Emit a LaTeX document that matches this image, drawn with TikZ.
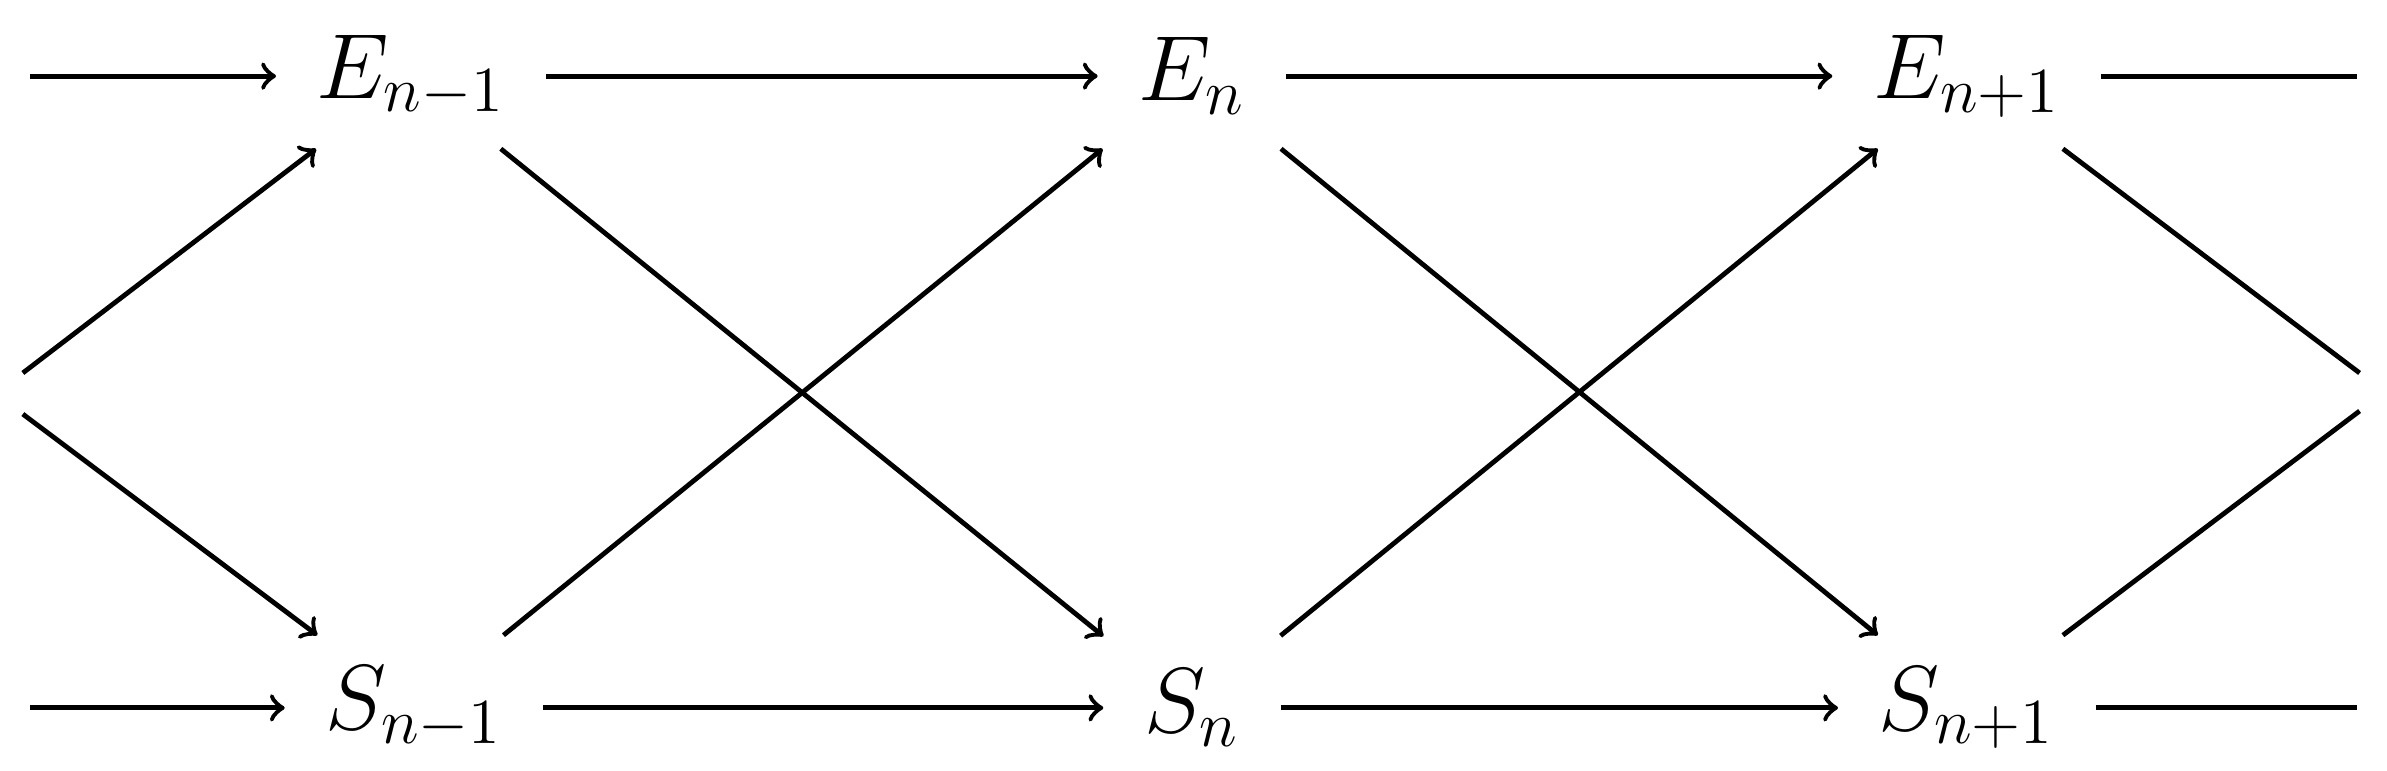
\documentclass[tikz,border=0pt]{standalone}
\begin{document}
\begin{tikzpicture}[x=0.01cm,y=-0.01cm,
  nd/.style={inner xsep=0.26cm,inner ysep=0pt,minimum height=0.94cm,font=\LARGE},
  ar/.style={->,line width=0.9pt},
  ln/.style={line width=0.9pt}]
\useasboundingbox (0,0) rectangle (1568,506);
\node[nd] (E1) at (270,50) {$E_{n-1}$};
\node[nd] (E2) at (783,50) {$E_{n}$};
\node[nd] (E3) at (1292,50) {$E_{n+1}$};
\node[nd] (S1) at (272,465) {$S_{n-1}$};
\node[nd] (S2) at (783,465) {$S_{n}$};
\node[nd] (S3) at (1292,465) {$S_{n+1}$};
\coordinate (a) at (20,50);
\coordinate (b) at (20,465);
\coordinate (c) at (15,245);
\coordinate (d) at (15,272);
\coordinate (e) at (1548,50);
\coordinate (f) at (1548,465);
\coordinate (g) at (1550,245);
\coordinate (h) at (1550,270);
\draw[ar] (a) -- (E1);
\draw[ar] (b) -- (S1);
\draw[ar] (c) -- (E1);
\draw[ar] (d) -- (S1);
\draw[ar] (E1) -- (E2);
\draw[ar] (E2) -- (E3);
\draw[ar] (S1) -- (S2);
\draw[ar] (S2) -- (S3);
\draw[ar] (E1) -- (S2);
\draw[ar] (S1) -- (E2);
\draw[ar] (E2) -- (S3);
\draw[ar] (S2) -- (E3);
\draw[ln] (E3) -- (e);
\draw[ln] (S3) -- (f);
\draw[ln] (E3) -- (g);
\draw[ln] (S3) -- (h);
\end{tikzpicture}
\end{document}
